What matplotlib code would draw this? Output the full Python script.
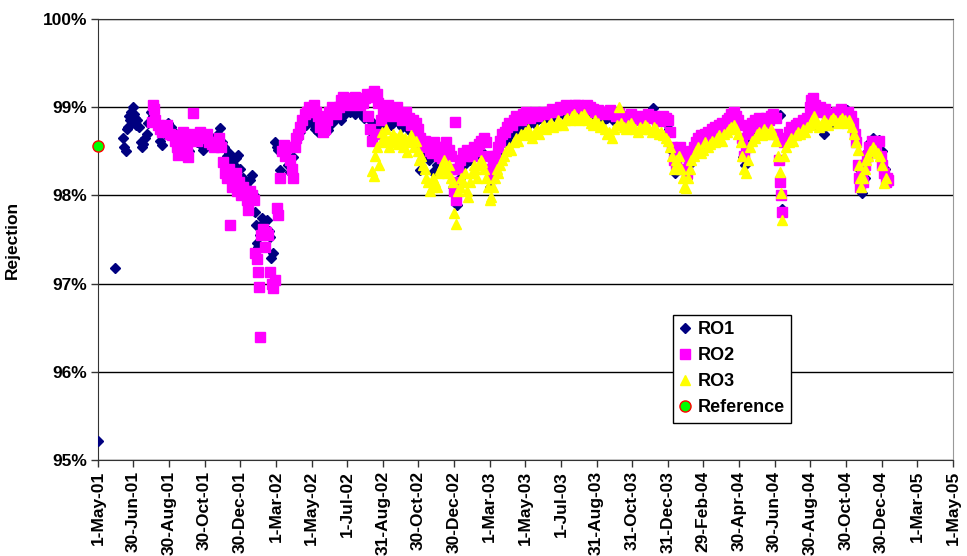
import numpy as np
import pandas as pd
import matplotlib
matplotlib.use("Agg")
import matplotlib.pyplot as plt
from matplotlib.ticker import FuncFormatter

plt.rcParams['font.family'] = ['Liberation Sans', 'DejaVu Sans']
plt.rcParams['font.weight'] = 'bold'

start = pd.Timestamp('2001-05-01')

tick_labels = ['1-May-01', '30-Jun-01', '30-Aug-01', '30-Oct-01', '30-Dec-01',
               '1-Mar-02', '1-May-02', '1-Jul-02', '31-Aug-02', '30-Oct-02',
               '30-Dec-02', '1-Mar-03', '1-May-03', '1-Jul-03', '31-Aug-03',
               '31-Oct-03', '31-Dec-03', '29-Feb-04', '30-Apr-04', '30-Jun-04',
               '30-Aug-04', '30-Oct-04', '30-Dec-04', '1-Mar-05', '1-May-05']

# (days after 1-May-01, rejection %)
reference = [(0, 98.56)]

ro1 = [(0, 95.22), (29, 97.18),
       (43, 98.65), (45, 98.55), (47, 98.50), (49, 98.75), (51, 98.78), (53, 98.90),
       (55, 98.85), (57, 98.95), (59, 99.00), (61, 98.92), (63, 98.88), (65, 98.80),
       (67, 98.85), (70, 98.78), (73, 98.60), (75, 98.55), (77, 98.58), (80, 98.65),
       (83, 98.70), (86, 98.82), (90, 98.95), (94, 98.90), (100, 98.80), (106, 98.62),
       (110, 98.57), (115, 98.70), (120, 98.82), (125, 98.78), (130, 98.72), (135, 98.68),
       (140, 98.65), (145, 98.62), (150, 98.55), (155, 98.50), (160, 98.62), (165, 98.65),
       (170, 98.60), (175, 98.58), (180, 98.51), (185, 98.60), (190, 98.62), (195, 98.60),
       (200, 98.65), (205, 98.70), (208, 98.76), (212, 98.60), (216, 98.55), (220, 98.45),
       (224, 98.48), (228, 98.40), (232, 98.35), (236, 98.42), (239, 98.46), (243, 98.30),
       (247, 98.20), (251, 98.15), (255, 98.10), (259, 98.18), (263, 98.23), (266, 98.00),
       (268, 97.81), (270, 97.66), (272, 97.46), (274, 97.42), (277, 97.55), (280, 97.74),
       (284, 97.70), (289, 97.72), (292, 97.60), (294, 97.53), (296, 97.29), (299, 97.35),
       (303, 98.61), (306, 98.55), (308, 98.51), (311, 98.29), (315, 98.50), (320, 98.45),
       (324, 98.35), (328, 98.27), (333, 98.44), (337, 98.55), (341, 98.65), (345, 98.72),
       (350, 98.78), (355, 98.80), (360, 98.85), (365, 98.82), (370, 98.75), (376, 98.72),
       (382, 98.78), (388, 98.80), (393, 98.74), (400, 98.82), (407, 98.88), (415, 98.85),
       (422, 98.92), (430, 98.95), (440, 98.92), (448, 98.93), (455, 98.88), (465, 98.85),
       (470, 98.70), (475, 98.80), (480, 98.78), (485, 98.82), (490, 98.85), (495, 98.88),
       (500, 98.80), (505, 98.85), (510, 98.88), (515, 98.82), (520, 98.78), (525, 98.82),
       (530, 98.75), (535, 98.72), (540, 98.70), (545, 98.60), (550, 98.29), (555, 98.45),
       (560, 98.50), (565, 98.40), (573, 98.27), (580, 98.35), (590, 98.40), (600, 98.30),
       (607, 98.10), (613, 97.89), (619, 98.20), (625, 98.35), (635, 98.40), (645, 98.45),
       (655, 98.50), (665, 98.30), (670, 98.10), (675, 98.20), (680, 98.35), (687, 98.45),
       (695, 98.60), (700, 98.62), (705, 98.70), (710, 98.72), (715, 98.75), (720, 98.78),
       (725, 98.80), (730, 98.82), (735, 98.80), (740, 98.85), (745, 98.82), (750, 98.85),
       (755, 98.88), (760, 98.86), (765, 98.90), (770, 98.88), (775, 98.92), (780, 98.90),
       (785, 98.93), (790, 98.95), (795, 98.92), (800, 98.95), (805, 98.97), (810, 98.95),
       (815, 98.93), (820, 98.95), (825, 98.92), (830, 98.90), (835, 98.92), (840, 98.95),
       (845, 98.93), (850, 98.90), (855, 98.88), (860, 98.90), (865, 98.85), (870, 98.88),
       (875, 98.90), (880, 98.86), (885, 98.84), (890, 98.88), (895, 98.85), (900, 98.82),
       (905, 98.86), (910, 98.88), (915, 98.85), (920, 98.87), (925, 98.84), (930, 98.86),
       (935, 98.88), (940, 98.90), (945, 98.92), (949, 98.99), (955, 98.90), (960, 98.88),
       (965, 98.85), (970, 98.82), (975, 98.75), (980, 98.50), (986, 98.25), (990, 98.40),
       (995, 98.45), (1000, 98.30), (1006, 98.20), (1010, 98.35), (1020, 98.45), (1030, 98.55),
       (1040, 98.65), (1050, 98.70), (1060, 98.75), (1070, 98.80), (1080, 98.85), (1090, 98.88),
       (1100, 98.80), (1103, 98.44), (1106, 98.35), (1110, 98.60), (1120, 98.75), (1130, 98.80),
       (1140, 98.85), (1150, 98.88), (1160, 98.90), (1166, 98.91), (1168, 97.85), (1172, 98.60),
       (1180, 98.70), (1190, 98.72), (1200, 98.78), (1210, 98.80), (1220, 98.82), (1230, 98.78),
       (1240, 98.70), (1250, 98.80), (1260, 98.90), (1270, 98.95), (1280, 98.97), (1290, 98.85),
       (1295, 98.60), (1300, 98.30), (1305, 98.03), (1310, 98.20), (1315, 98.50), (1320, 98.60),
       (1325, 98.65), (1330, 98.60), (1335, 98.63), (1340, 98.50), (1345, 98.30), (1348, 98.20)]

ro2 = [(92, 98.83), (94, 99.02), (96, 98.98), (98, 98.85), (102, 98.80), (106, 98.75),
       (110, 98.72), (114, 98.78), (118, 98.80), (123, 98.70), (127, 98.68), (131, 98.62),
       (135, 98.55), (137, 98.46), (141, 98.60), (145, 98.72), (149, 98.70), (152, 98.55),
       (154, 98.44), (158, 98.65), (162, 98.93), (166, 98.70), (170, 98.62), (174, 98.72),
       (178, 98.68), (182, 98.65), (186, 98.70), (190, 98.60), (194, 98.58), (198, 98.55),
       (203, 98.60), (207, 98.65), (211, 98.55), (214, 98.38), (217, 98.25), (220, 98.20),
       (223, 98.30), (226, 97.66), (229, 98.10), (232, 98.15), (235, 98.25), (238, 98.05),
       (241, 98.15), (244, 98.00), (248, 98.10), (251, 98.05), (254, 97.95), (257, 97.83),
       (260, 98.05), (263, 98.00), (266, 97.95), (268, 97.35), (271, 97.28), (273, 97.13),
       (275, 96.96), (277, 96.39), (279, 97.55), (282, 97.62), (285, 97.42), (287, 97.58),
       (290, 97.55), (294, 97.13), (297, 97.00), (299, 96.95), (303, 97.04), (306, 97.86),
       (308, 97.78), (311, 98.20), (314, 98.50), (317, 98.57), (320, 98.45), (324, 98.55),
       (328, 98.40), (331, 98.30), (333, 98.20), (336, 98.55), (339, 98.65), (342, 98.70),
       (345, 98.78), (349, 98.85), (353, 98.92), (357, 98.95), (361, 99.00), (365, 98.98),
       (369, 99.02), (373, 98.95), (376, 98.90), (380, 98.78), (384, 98.72), (388, 98.75),
       (391, 98.85), (395, 98.95), (399, 99.00), (403, 98.98), (407, 98.92), (411, 99.00),
       (415, 99.08), (419, 99.12), (423, 99.05), (427, 99.10), (431, 99.02), (436, 99.05),
       (440, 99.12), (444, 99.08), (448, 99.02), (452, 99.05), (456, 99.10), (460, 99.15),
       (462, 98.90), (464, 99.12), (465, 98.75), (468, 99.15), (469, 98.62), (472, 99.18),
       (474, 98.70), (476, 99.15), (479, 99.05), (483, 98.85), (487, 98.95), (491, 99.00),
       (495, 99.02), (499, 98.95), (503, 98.90), (507, 98.98), (511, 99.00), (515, 98.92),
       (519, 98.85), (523, 98.90), (527, 98.95), (531, 98.88), (535, 98.80), (539, 98.85),
       (543, 98.82), (547, 98.75), (551, 98.65), (555, 98.58), (559, 98.62), (563, 98.55),
       (567, 98.50), (571, 98.48), (575, 98.60), (579, 98.55), (583, 98.45), (587, 98.42),
       (591, 98.55), (595, 98.60), (599, 98.52), (603, 98.45), (606, 98.30), (608, 98.05),
       (610, 98.83), (611, 97.95), (613, 98.15), (616, 98.30), (619, 98.40), (623, 98.48),
       (627, 98.45), (631, 98.52), (635, 98.50), (639, 98.45), (643, 98.55), (647, 98.50),
       (651, 98.58), (655, 98.62), (659, 98.65), (663, 98.60), (666, 98.45), (669, 98.30),
       (672, 98.20), (675, 98.35), (679, 98.45), (683, 98.55), (687, 98.62), (691, 98.70),
       (695, 98.72), (699, 98.78), (703, 98.82), (707, 98.80), (711, 98.85), (715, 98.90),
       (719, 98.88), (723, 98.85), (727, 98.92), (731, 98.95), (735, 98.90), (739, 98.88),
       (743, 98.92), (747, 98.95), (751, 98.90), (755, 98.92), (760, 98.95), (765, 98.92),
       (770, 98.95), (775, 98.98), (780, 98.95), (785, 98.97), (790, 99.00), (795, 98.98),
       (800, 99.02), (805, 99.00), (810, 98.98), (815, 99.02), (820, 99.03), (825, 99.00),
       (830, 98.98), (835, 99.02), (840, 99.00), (845, 98.98), (850, 98.95), (855, 98.97),
       (860, 98.95), (865, 98.92), (870, 98.95), (875, 98.97), (880, 98.92), (885, 98.90),
       (890, 98.93), (895, 98.88), (900, 98.85), (905, 98.90), (910, 98.92), (915, 98.88),
       (920, 98.90), (925, 98.85), (930, 98.88), (935, 98.90), (940, 98.92), (945, 98.88),
       (950, 98.90), (955, 98.86), (960, 98.84), (965, 98.90), (970, 98.88), (974, 98.85),
       (978, 98.72), (981, 98.55), (984, 98.40), (987, 98.35), (990, 98.50), (994, 98.55),
       (998, 98.45), (1002, 98.30), (1006, 98.25), (1010, 98.40), (1014, 98.50), (1018, 98.55),
       (1022, 98.60), (1026, 98.65), (1030, 98.68), (1034, 98.62), (1038, 98.70), (1042, 98.72),
       (1046, 98.68), (1050, 98.75), (1054, 98.78), (1058, 98.72), (1062, 98.80), (1066, 98.82),
       (1070, 98.78), (1074, 98.85), (1078, 98.88), (1082, 98.92), (1086, 98.95), (1090, 98.90),
       (1094, 98.85), (1098, 98.80), (1101, 98.65), (1104, 98.45), (1107, 98.55), (1110, 98.70),
       (1114, 98.78), (1118, 98.82), (1122, 98.85), (1126, 98.80), (1130, 98.88), (1134, 98.85),
       (1138, 98.82), (1142, 98.88), (1146, 98.85), (1150, 98.90), (1154, 98.92), (1158, 98.88),
       (1161, 98.70), (1163, 98.40), (1165, 98.15), (1167, 98.00), (1169, 97.81), (1172, 98.60),
       (1176, 98.65), (1180, 98.72), (1184, 98.78), (1188, 98.75), (1192, 98.80), (1196, 98.82),
       (1200, 98.78), (1204, 98.85), (1208, 98.82), (1212, 98.88), (1216, 99.00), (1219, 99.08),
       (1222, 99.10), (1226, 99.02), (1230, 98.98), (1234, 99.00), (1238, 98.95), (1242, 98.98),
       (1246, 98.90), (1250, 98.92), (1254, 98.88), (1258, 98.90), (1262, 98.95), (1266, 98.92),
       (1270, 98.98), (1274, 98.95), (1278, 98.92), (1282, 98.95), (1286, 98.90), (1290, 98.82),
       (1293, 98.70), (1296, 98.60), (1298, 98.35), (1300, 98.20), (1302, 98.10), (1305, 98.25),
       (1308, 98.15), (1311, 98.35), (1314, 98.45), (1318, 98.55), (1322, 98.62), (1326, 98.60),
       (1330, 98.55), (1334, 98.62), (1338, 98.45), (1340, 98.35), (1343, 98.25), (1346, 98.15),
       (1348, 98.20), (1350, 98.18)]

ro3 = [(468, 98.28), (471, 98.22), (474, 98.45), (477, 98.55), (480, 98.35), (483, 98.60),
       (486, 98.72), (489, 98.65), (492, 98.75), (495, 98.62), (498, 98.55), (501, 98.65),
       (504, 98.70), (507, 98.60), (510, 98.65), (513, 98.58), (516, 98.70), (519, 98.62),
       (522, 98.55), (525, 98.65), (528, 98.49), (531, 98.60), (534, 98.68), (537, 98.65),
       (540, 98.55), (543, 98.62), (546, 98.50), (549, 98.40), (552, 98.45), (555, 98.35),
       (558, 98.30), (561, 98.20), (564, 98.15), (567, 98.05), (570, 98.10), (573, 98.20),
       (576, 98.15), (579, 98.10), (582, 98.25), (585, 98.30), (588, 98.35), (591, 98.40),
       (594, 98.30), (597, 98.25), (600, 98.35), (603, 98.20), (606, 98.15), (609, 97.80),
       (612, 97.68), (615, 98.05), (618, 98.10), (621, 98.20), (624, 98.15), (627, 98.25),
       (630, 98.05), (633, 97.98), (636, 98.15), (639, 98.25), (642, 98.35), (645, 98.30),
       (648, 98.20), (651, 98.35), (654, 98.40), (657, 98.38), (660, 98.30), (663, 98.20),
       (666, 98.10), (669, 97.95), (672, 97.98), (675, 98.10), (678, 98.20), (681, 98.30),
       (684, 98.25), (687, 98.35), (690, 98.40), (694, 98.45), (698, 98.50), (702, 98.55),
       (706, 98.52), (710, 98.60), (714, 98.65), (718, 98.62), (722, 98.70), (726, 98.68),
       (730, 98.72), (734, 98.75), (738, 98.70), (742, 98.65), (746, 98.72), (750, 98.75),
       (754, 98.70), (758, 98.78), (762, 98.80), (766, 98.75), (770, 98.80), (774, 98.82),
       (778, 98.78), (782, 98.80), (786, 98.85), (790, 98.82), (794, 98.80), (798, 98.85),
       (802, 98.88), (806, 98.85), (810, 98.90), (814, 98.92), (818, 98.88), (822, 98.85),
       (826, 98.90), (830, 98.92), (834, 98.88), (838, 98.85), (842, 98.82), (846, 98.80),
       (850, 98.85), (854, 98.82), (858, 98.78), (862, 98.80), (866, 98.75), (870, 98.70),
       (874, 98.72), (878, 98.65), (882, 98.75), (886, 98.80), (890, 99.00), (894, 98.82),
       (898, 98.78), (902, 98.75), (906, 98.80), (910, 98.82), (914, 98.78), (918, 98.75),
       (922, 98.72), (926, 98.78), (930, 98.75), (934, 98.80), (938, 98.78), (942, 98.75),
       (946, 98.72), (950, 98.78), (954, 98.75), (958, 98.70), (962, 98.72), (966, 98.68),
       (970, 98.65), (974, 98.62), (978, 98.55), (981, 98.45), (984, 98.30), (987, 98.40),
       (990, 98.35), (993, 98.45), (996, 98.30), (999, 98.20), (1002, 98.10), (1005, 98.08),
       (1008, 98.20), (1011, 98.30), (1014, 98.40), (1018, 98.45), (1022, 98.50), (1026, 98.55),
       (1030, 98.48), (1034, 98.52), (1038, 98.60), (1042, 98.55), (1046, 98.58), (1050, 98.62),
       (1054, 98.60), (1058, 98.65), (1062, 98.68), (1066, 98.62), (1070, 98.70), (1074, 98.72),
       (1078, 98.75), (1082, 98.78), (1086, 98.80), (1090, 98.75), (1094, 98.70), (1098, 98.60),
       (1101, 98.45), (1104, 98.30), (1107, 98.25), (1110, 98.40), (1114, 98.55), (1118, 98.62),
       (1122, 98.65), (1126, 98.70), (1130, 98.72), (1134, 98.68), (1138, 98.75), (1142, 98.72),
       (1146, 98.70), (1150, 98.75), (1154, 98.70), (1158, 98.62), (1162, 98.45), (1165, 98.27),
       (1167, 98.03), (1169, 97.72), (1172, 98.45), (1176, 98.55), (1180, 98.60), (1184, 98.65),
       (1188, 98.62), (1192, 98.68), (1196, 98.72), (1200, 98.70), (1204, 98.75), (1208, 98.72),
       (1212, 98.78), (1216, 98.80), (1220, 98.85), (1224, 98.90), (1228, 98.82), (1232, 98.78),
       (1236, 98.80), (1240, 98.85), (1244, 98.82), (1248, 98.80), (1252, 98.85), (1256, 98.88),
       (1260, 98.85), (1264, 98.82), (1268, 98.85), (1272, 98.88), (1276, 98.85), (1280, 98.82),
       (1284, 98.85), (1288, 98.78), (1292, 98.70), (1295, 98.60), (1298, 98.51), (1300, 98.35),
       (1302, 98.20), (1304, 98.10), (1307, 98.20), (1310, 98.30), (1313, 98.40), (1316, 98.45),
       (1320, 98.50), (1324, 98.55), (1328, 98.52), (1332, 98.48), (1336, 98.45), (1340, 98.35),
       (1343, 98.14), (1346, 98.20)]

fig = plt.figure(figsize=(9.67, 5.56), dpi=100)
ax = fig.add_axes([98 / 967, 96 / 556, 855 / 967, 441 / 556])


def xy(pairs):
    a = np.array(pairs, dtype=float)
    return a[:, 0], a[:, 1]


x, y = xy(ro1)
ax.plot(x, y, 'D', color='#000080', ms=5.5, mec='#000080', label='RO1', zorder=3)
x, y = xy(ro2)
ax.plot(x, y, 's', color='#FF00FF', ms=6.5, mec='#FF00FF', label='RO2', zorder=4)
x, y = xy(ro3)
ax.plot(x, y, '^', color='#FFFF00', ms=7, mec='#FFFF00', label='RO3', zorder=5)
x, y = xy(reference)
ax.plot(x, y, 'o', color='#00FF00', ms=8, mec='#FF0000', mew=1, label='Reference',
        zorder=6, clip_on=False)

tick_days = [(pd.to_datetime(t, format='%d-%b-%y') - start).days for t in tick_labels]
ax.set_xlim(0, tick_days[-1])
ax.set_xticks(tick_days)
ax.set_xticklabels(tick_labels, rotation=90, fontsize=12.5, fontweight='bold')

ax.set_ylim(95, 100)
ax.set_yticks([95, 96, 97, 98, 99, 100])
ax.yaxis.set_major_formatter(FuncFormatter(lambda v, p: '%d%%' % round(v)))
for lbl in ax.get_yticklabels():
    lbl.set_fontsize(12.5)
    lbl.set_fontweight('bold')
ax.yaxis.grid(True, color='black', lw=1)
ax.set_axisbelow(True)
ax.tick_params(direction='out', length=5, width=1, color='#333333', pad=3)

ax.set_ylabel('Rejection', fontsize=12.5, fontweight='bold')
ax.yaxis.set_label_coords(-0.091, 0.5)

for side in ['left', 'bottom', 'top']:
    ax.spines[side].set_color('#333333')
ax.spines['right'].set_color('#999999')

leg = ax.legend(loc='upper left', bbox_to_anchor=(0.672, 0.329), numpoints=1,
                prop={'size': 13, 'weight': 'bold'}, frameon=True, fancybox=False,
                edgecolor='black', framealpha=1, borderpad=0.35, labelspacing=0.5,
                handlelength=0.7, handletextpad=0.35, borderaxespad=0)
leg.get_frame().set_linewidth(1)

fig.savefig('out.png', dpi=100)
